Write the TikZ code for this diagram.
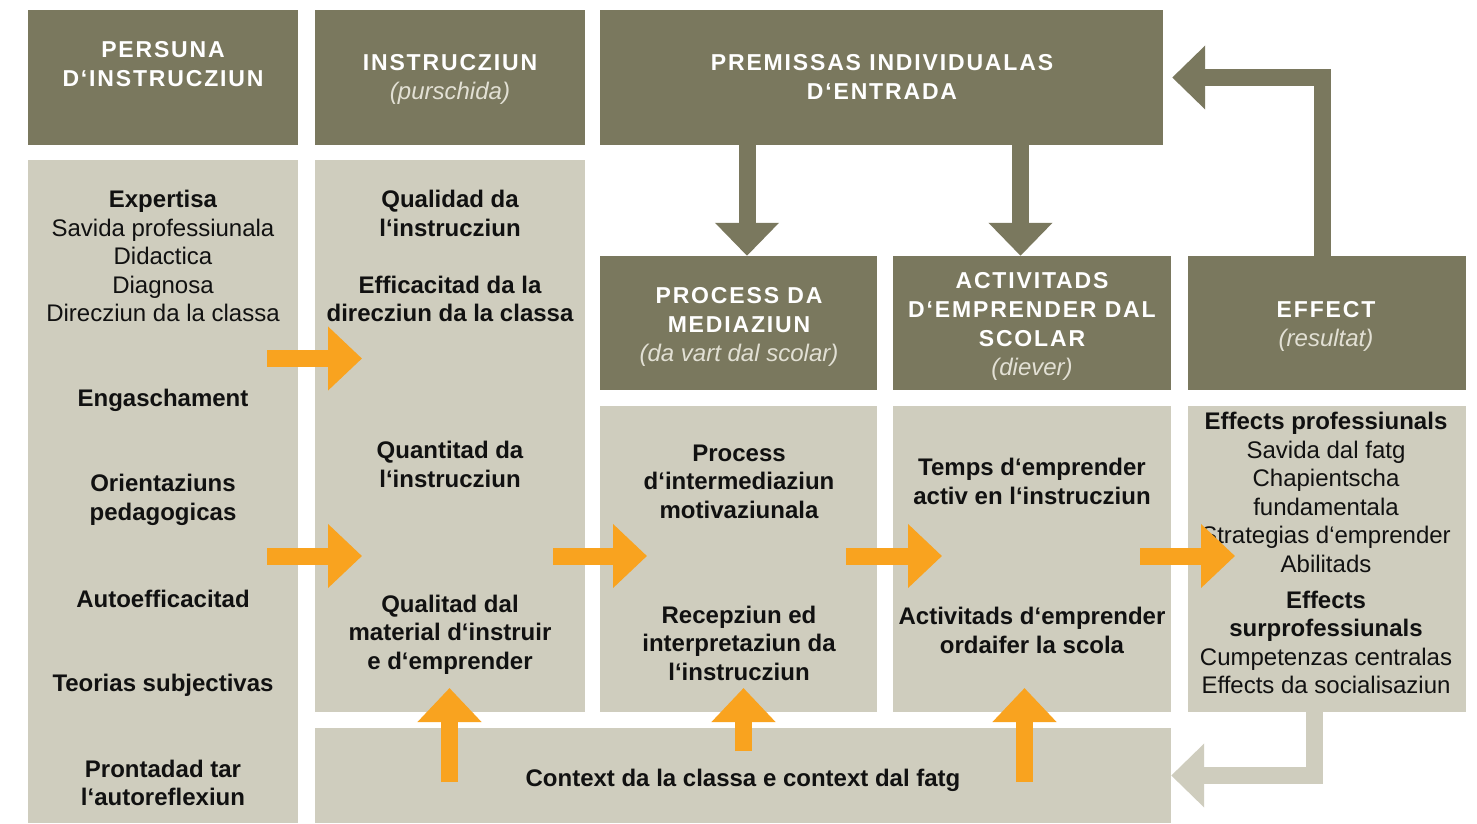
\documentclass[tikz,border=0pt]{standalone}
\usepackage{fontspec}
\setmainfont{Liberation Sans}
\newfontfamily\hdfont[LetterSpace=8]{Liberation Sans}
\usetikzlibrary{arrows.meta}
\definecolor{hdcol}{HTML}{7A785E}
\definecolor{pncol}{HTML}{CFCDBE}
\definecolor{orcol}{HTML}{F9A31F}
\definecolor{subcol}{HTML}{E2E0D4}
\definecolor{txcol}{HTML}{111111}
\newcommand{\hsub}[1]{{\normalfont\fontsize{24}{29}\selectfont\itshape\color{subcol}#1}}
\begin{document}
\begin{tikzpicture}[x=1pt,y=-1pt,
  hbox/.style={fill=hdcol, draw=none, inner sep=0pt},
  pbox/.style={fill=pncol, draw=none, inner sep=0pt},
  htxt/.style={text=white, align=center, inner sep=0pt, font=\hdfont\bfseries\fontsize{23}{29}\selectfont},
  btxt/.style={text=txcol, align=center, inner sep=0pt, font=\fontsize{24}{28.5}\selectfont},
  bbtxt/.style={btxt, font=\bfseries\fontsize{24}{28.5}\selectfont},
  oarrow/.style={draw=orcol, line width=17pt, -{Triangle[width=62pt,length=34pt]}},
  darrow/.style={draw=hdcol, line width=17pt, -{Triangle[width=62pt,length=33pt]}},
  larrow/.style={draw=pncol, line width=17pt, -{Triangle[width=62pt,length=33pt]}}
]
\useasboundingbox (0,0) rectangle (1477,823);
\fill[white] (0,0) rectangle (1477,823);

% header boxes
\node[hbox, minimum width=270, minimum height=135] (h1) at (163,77.5) {};
\node[hbox, minimum width=270, minimum height=135] (h2) at (450,77.5) {};
\node[hbox, minimum width=563, minimum height=135] (h3) at (881.5,77.5) {};
\node[hbox, minimum width=277, minimum height=134] (h4) at (738.5,323) {};
\node[hbox, minimum width=278, minimum height=134] (h5) at (1032,323) {};
\node[hbox, minimum width=278, minimum height=134] (h6) at (1327,323) {};

% panels
\node[pbox, minimum width=270, minimum height=663] (p1) at (163,491.5) {};
\node[pbox, minimum width=270, minimum height=552] (p2) at (450,436) {};
\node[pbox, minimum width=277, minimum height=306] (p4) at (738.5,559) {};
\node[pbox, minimum width=278, minimum height=306] (p5) at (1032,559) {};
\node[pbox, minimum width=278, minimum height=306] (p6) at (1327,559) {};
\node[pbox, minimum width=856, minimum height=95] (ctx) at (743,775.5) {};

% header texts
\node[htxt] (t1) at (163,64) {PERSUNA\\D‘INSTRUCZIUN};
\node[htxt] (t2) at (450,79.5) {INSTRUCZIUN\\\hsub{(purschida)}};
\node[htxt] (t3) at (882,76.5) {PREMISSAS INDIVIDUALAS\\D‘ENTRADA};
\node[htxt] (t4) at (739,326.5) {PROCESS DA\\MEDIAZIUN\\\hsub{(da vart dal scolar)}};
\node[htxt] (t5) at (1032,326.5) {ACTIVITADS\\D‘EMPRENDER DAL\\SCOLAR\\\hsub{(diever)}};
\node[htxt] (t6) at (1326,326.5) {EFFECT\\\hsub{(resultat)}};

% left column
\node[btxt] (a1) at (163,256) {\textbf{Expertisa}\\Savida professiunala\\Didactica\\Diagnosa\\Direcziun da la classa};
\node[bbtxt] (a2) at (163,400) {Engaschament};
\node[bbtxt] (a3) at (163,500) {Orientaziuns\\pedagogicas};
\node[bbtxt] (a4) at (163,599) {Autoefficacitad};
\node[bbtxt] (a5) at (163,685) {Teorias subjectivas};
\node[bbtxt] (a6) at (163,783) {Prontadad tar\\l‘autoreflexiun};

% instruction column
\node[bbtxt] (b1) at (450,213.5) {Qualidad da\\l‘instrucziun};
\node[bbtxt] (b2) at (450,299) {Efficacitad da la\\direcziun da la classa};
\node[bbtxt] (b3) at (450,464.5) {Quantitad da\\l‘instrucziun};
\node[bbtxt] (b4) at (450,634.5) {Qualitad dal\\material d‘instruir\\e d‘emprender};

% process column
\node[bbtxt] (c1) at (739,481.5) {Process\\d‘intermediaziun\\motivaziunala};
\node[bbtxt] (c2) at (739,643) {Recepziun ed\\interpretaziun da\\l‘instrucziun};

% activities column
\node[bbtxt] (d1) at (1032,481.5) {Temps d‘emprender\\activ en l‘instrucziun};
\node[bbtxt] (d2) at (1032,630.5) {Activitads d‘emprender\\ordaifer la scola};

% effect column
\node[btxt] (e1) at (1326,492.5) {\textbf{Effects professiunals}\\Savida dal fatg\\Chapientscha\\fundamentala\\Strategias d‘emprender\\Abilitads};
\node[btxt] (e2) at (1326,642.5) {\textbf{Effects}\\\textbf{surprofessiunals}\\Cumpetenzas centralas\\Effects da socialisaziun};

% context
\node[bbtxt] (f1) at (743,780) {Context da la classa e context dal fatg};

% dark arrows from premissas
\coordinate (dx1) at (747,0);
\coordinate (dx2) at (1020.5,0);
\draw[darrow] (h3.south -| dx1) -- (h4.north -| dx1);
\draw[darrow] (h3.south -| dx2) -- (h5.north -| dx2);

% feedback arrow
\coordinate (fb) at (1322.5,0);
\draw[darrow] (h6.north -| fb) |- ([xshift=9pt]h3.east);

% light arrow from effect panel to context
\coordinate (lb) at (1314.5,0);
\draw[larrow] (p6.south -| lb) |- (ctx.east);

% orange horizontal arrows
\coordinate (o1a) at (267,358.5);
\coordinate (o1b) at (362,358.5);
\coordinate (o2a) at (267,556);
\coordinate (o2b) at (362,556);
\coordinate (o3a) at (553,556);
\coordinate (o3b) at (647,556);
\coordinate (o4a) at (846,556);
\coordinate (o4b) at (942,556);
\coordinate (o5a) at (1140,556);
\coordinate (o5b) at (1235,556);
\draw[oarrow] (o1a) -- (o1b);
\draw[oarrow] (o2a) -- (o2b);
\draw[oarrow] (o3a) -- (o3b);
\draw[oarrow] (o4a) -- (o4b);
\draw[oarrow] (o5a) -- (o5b);

% orange up arrows from context
\coordinate (u1a) at (449.5,782);
\coordinate (u1b) at (449.5,688);
\coordinate (u2a) at (743.5,751);
\coordinate (u2b) at (743.5,688);
\coordinate (u3a) at (1024.5,782);
\coordinate (u3b) at (1024.5,688);
\draw[oarrow] (u1a) -- (u1b);
\draw[oarrow] (u2a) -- (u2b);
\draw[oarrow] (u3a) -- (u3b);
\end{tikzpicture}
\end{document}
